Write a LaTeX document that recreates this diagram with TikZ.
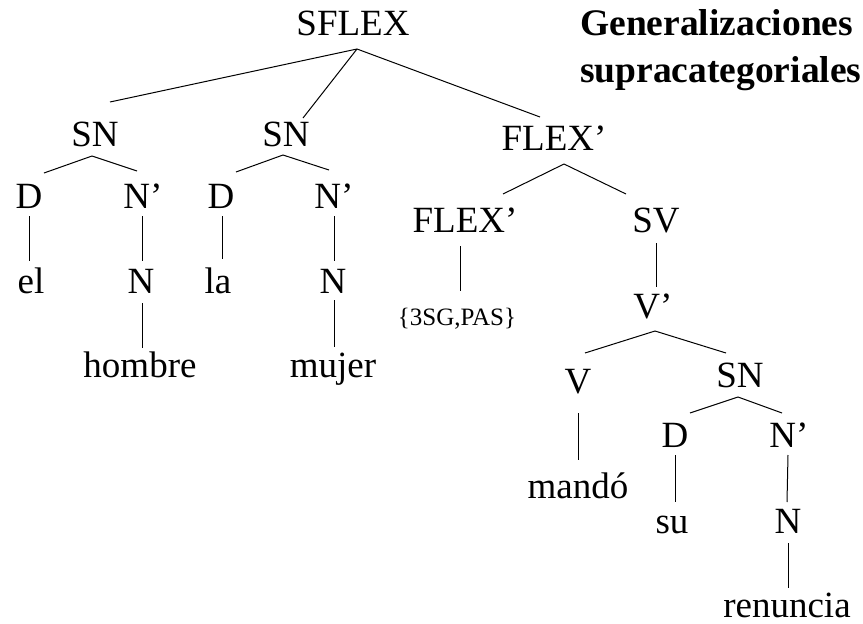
\documentclass[tikz,border=0pt]{standalone}
\usepackage{fontspec}
\setmainfont{Liberation Serif}
\begin{document}
\begin{tikzpicture}[x=1pt,y=-1pt,
  lab/.style={anchor=base,inner sep=0pt,font=\fontsize{37}{44}\selectfont},
  small/.style={anchor=base,inner sep=0pt,font=\fontsize{25}{30}\selectfont},
  ttl/.style={anchor=base west,inner sep=0pt,font=\fontsize{37.5}{45}\selectfont\bfseries},
  edge/.style={line width=1pt}]
\useasboundingbox (0,0) rectangle (863,624);
% nodes
\node[lab] (SFLEX) at (353,35) {SFLEX};
\node[lab] (SN1) at (95,146) {SN};
\node[lab] (SN2) at (286,146) {SN};
\node[lab] (FLEXa) at (554,150) {FLEX’};
\node[lab] (D1) at (29,208) {D};
\node[lab] (Np1) at (143,208) {N’};
\node[lab] (D2) at (221,208) {D};
\node[lab] (Np2) at (334,208) {N’};
\node[lab] (el) at (31,293) {el};
\node[lab] (N1) at (141,293) {N};
\node[lab] (la) at (218,293) {la};
\node[lab] (N2) at (333,293) {N};
\node[lab] (hombre) at (140,377) {hombre};
\node[lab] (mujer) at (333,377) {mujer};
\node[lab] (FLEXb) at (465,232) {FLEX’};
\node[lab] (SV) at (656,232) {SV};
\node[small] (feat) at (457,325) {\{3SG,PAS\}};
\node[lab] (Vp) at (653,318) {V’};
\node[lab] (V) at (578,393) {V};
\node[lab] (SN3) at (740,387) {SN};
\node[lab] (mando) at (578,498) {mandó};
\node[lab] (D3) at (675,447) {D};
\node[lab] (Np3) at (789,447) {N’};
\node[lab] (su) at (672,533) {su};
\node[lab] (N3) at (788,533) {N};
\node[lab] (renuncia) at (787,617) {renuncia};
\node[ttl] (t1) at (580,35) {Generalizaciones};
\node[ttl] (t2) at (580,82) {supracategoriales};
% edges
\draw[edge] ([shift={(4,14)}]SFLEX.base) -- ([shift={(15,-44)}]SN1.base);
\draw[edge] ([shift={(4,14)}]SFLEX.base) -- ([shift={(17,-28)}]SN2.base);
\draw[edge] ([shift={(4,14)}]SFLEX.base) -- ([shift={(-14,-33)}]FLEXa.base);
\draw[edge] ([shift={(-3,10)}]SN1.base) -- ([shift={(15,-35)}]D1.base);
\draw[edge] ([shift={(-3,10)}]SN1.base) -- ([shift={(-6,-37)}]Np1.base);
\draw[edge] ([shift={(-3,9)}]SN2.base) -- ([shift={(15,-36)}]D2.base);
\draw[edge] ([shift={(-3,9)}]SN2.base) -- ([shift={(-5,-38)}]Np2.base);
\draw[edge] ([shift={(0,8)}]D1.base) -- ([shift={(-2,-32)}]el.base);
\draw[edge] ([shift={(-1,8)}]Np1.base) -- ([shift={(1,-32)}]N1.base);
\draw[edge] ([shift={(1,8)}]D2.base) -- ([shift={(4,-34)}]la.base);
\draw[edge] ([shift={(0,8)}]Np2.base) -- ([shift={(1,-32)}]N2.base);
\draw[edge] ([shift={(1,10)}]N1.base) -- ([shift={(2,-29)}]hombre.base);
\draw[edge] ([shift={(1,7)}]N2.base) -- ([shift={(1,-30)}]mujer.base);
\draw[edge] ([shift={(10,14)}]FLEXa.base) -- ([shift={(38,-38)}]FLEXb.base);
\draw[edge] ([shift={(10,14)}]FLEXa.base) -- ([shift={(-30,-38)}]SV.base);
\draw[edge] ([shift={(-5,14)}]FLEXb.base) -- ([shift={(3,-34)}]feat.base);
\draw[edge] ([shift={(0,11)}]SV.base) -- ([shift={(3,-31)}]Vp.base);
\draw[edge] ([shift={(2,13)}]Vp.base) -- ([shift={(7,-40)}]V.base);
\draw[edge] ([shift={(2,13)}]Vp.base) -- ([shift={(-14,-34)}]SN3.base);
\draw[edge] ([shift={(0,20)}]V.base) -- ([shift={(0,-38)}]mando.base);
\draw[edge] ([shift={(-2,10)}]SN3.base) -- ([shift={(15,-34)}]D3.base);
\draw[edge] ([shift={(-2,10)}]SN3.base) -- ([shift={(-7,-34)}]Np3.base);
\draw[edge] ([shift={(0,8)}]D3.base) -- ([shift={(3,-31)}]su.base);
\draw[edge] ([shift={(-1,8)}]Np3.base) -- ([shift={(-1,-31)}]N3.base);
\draw[edge] ([shift={(0,10)}]N3.base) -- ([shift={(1,-29)}]renuncia.base);
\end{tikzpicture}
\end{document}
